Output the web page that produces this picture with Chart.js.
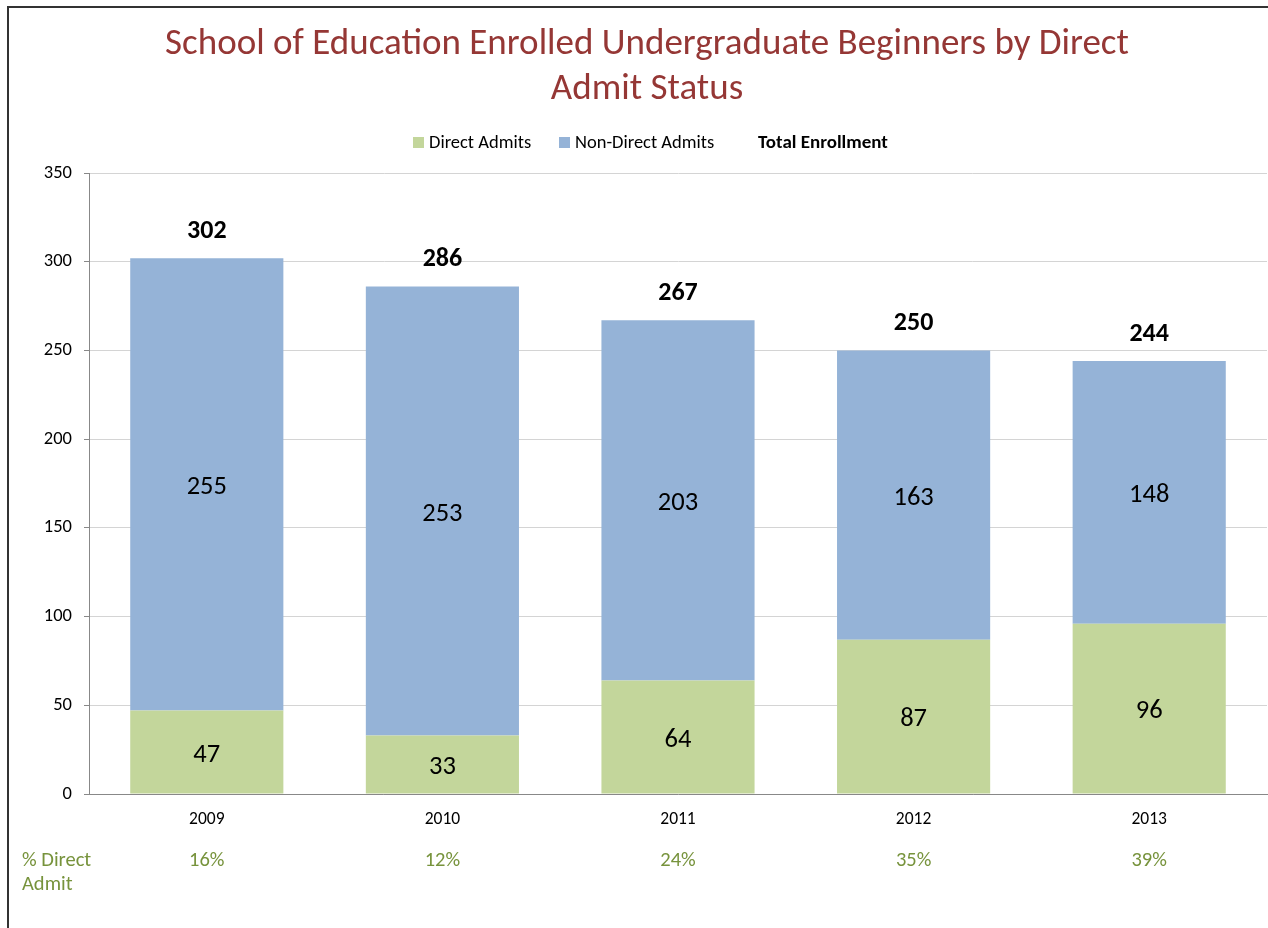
<!DOCTYPE html>
<html>
<head>
<meta charset="utf-8">
<script src="https://cdn.jsdelivr.net/npm/chart.js@4.4.1/dist/chart.umd.min.js"></script>
<style>
  html, body { margin: 0; padding: 0; background: #fff; }
  #wrap { width: 1268px; height: 928px; }
</style>
</head>
<body>
<div id="wrap"><canvas id="enrollChart" width="1268" height="928"></canvas></div>
<script>
var years = ['2009', '2010', '2011', '2012', '2013'];
var directAdmits = [47, 33, 64, 87, 96];
var nonDirectAdmits = [255, 253, 203, 163, 148];
var totalEnrollment = [302, 286, 267, 250, 244];
var pctDirect = ['16%', '12%', '24%', '35%', '39%'];

var FONT = "Carlito, Lato, 'Open Sans', sans-serif";

// title, legend, frame, labels and the % row
var extras = {
  id: 'extras',
  beforeDraw: function (chart) {
    var c = chart.ctx;
    c.save();
    c.fillStyle = '#fff';
    c.fillRect(0, 0, chart.width, chart.height);
    c.strokeStyle = '#333';
    c.lineWidth = 2;
    c.strokeRect(8, 7, 1400, 1000);
    c.restore();
  },
  afterDatasetsDraw: function (chart) {
    var c = chart.ctx;
    c.save();
    // title
    c.fillStyle = '#953735';
    c.font = '37px ' + FONT;
    c.textAlign = 'center';
    c.textBaseline = 'middle';
    c.fillText('School of Education Enrolled Undergraduate Beginners by Direct', 647, 45);
    c.fillText('Admit Status', 647, 90);

    // legend
    c.font = '18.5px ' + FONT;
    c.textAlign = 'left';
    c.fillStyle = '#C3D69B';
    c.fillRect(413, 137, 11, 11);
    c.fillStyle = '#000';
    c.fillText('Direct Admits', 429, 143);
    c.fillStyle = '#95B3D7';
    c.fillRect(559, 137, 11, 11);
    c.fillStyle = '#000';
    c.fillText('Non-Direct Admits', 575, 143);
    c.font = 'bold 19px ' + FONT;
    c.fillText('Total Enrollment', 758, 143);

    // segment labels
    c.textAlign = 'center';
    c.font = '26.5px ' + FONT;
    [0, 1].forEach(function (di) {
      var meta = chart.getDatasetMeta(di);
      var vals = chart.data.datasets[di].data;
      meta.data.forEach(function (bar, i) {
        c.fillText(String(vals[i]), bar.x, (bar.y + bar.base) / 2 + 3);
      });
    });

    // totals above bars
    var top = chart.getDatasetMeta(1);
    c.font = 'bold 26px ' + FONT;
    top.data.forEach(function (bar, i) {
      c.fillText(String(totalEnrollment[i]), bar.x, bar.y - 27);
    });

    // % direct admit row
    var xs = chart.scales.x;
    c.fillStyle = '#77933C';
    c.font = '20.5px ' + FONT;
    pctDirect.forEach(function (p, i) {
      c.fillText(p, xs.getPixelForValue(i), 861);
    });
    c.textAlign = 'left';
    c.fillText('% Direct', 22, 861);
    c.fillText('Admit', 22, 885);
    c.restore();
  }
};

var ctx = document.getElementById('enrollChart');
var enrollChart = new Chart(ctx, {
  type: 'bar',
  data: {
    labels: years,
    datasets: [{
      label: 'Direct Admits',
      data: directAdmits,
      backgroundColor: '#C3D69B',
      borderWidth: 0,
      categoryPercentage: 1,
      barPercentage: 0.65
    }, {
      label: 'Non-Direct Admits',
      data: nonDirectAdmits,
      backgroundColor: '#95B3D7',
      borderWidth: 0,
      categoryPercentage: 1,
      barPercentage: 0.65
    }]
  },
  options: {
    responsive: false,
    animation: false,
    layout: { padding: { top: 173, left: 0, right: 1, bottom: 0 } },
    scales: {
      x: {
        stacked: true,
        afterFit: function (s) { s.height = 134; },
        grid: { display: false, drawTicks: false },
        border: { color: '#888', width: 1 },
        ticks: { color: '#000', padding: 15, font: { family: FONT, size: 17.5 } }
      },
      y: {
        stacked: true,
        min: 0,
        max: 350,
        afterFit: function (s) { s.width = 89; },
        grid: { color: '#d4d4d4', tickColor: '#888', tickLength: 5 },
        border: { color: '#888', width: 1 },
        ticks: { stepSize: 50, color: '#000', padding: 12, font: { family: FONT, size: 18.5 } }
      }
    },
    plugins: {
      legend: { display: false },
      title: { display: false },
      tooltip: { enabled: false }
    }
  },
  plugins: [extras]
});
</script>
</body>
</html>
